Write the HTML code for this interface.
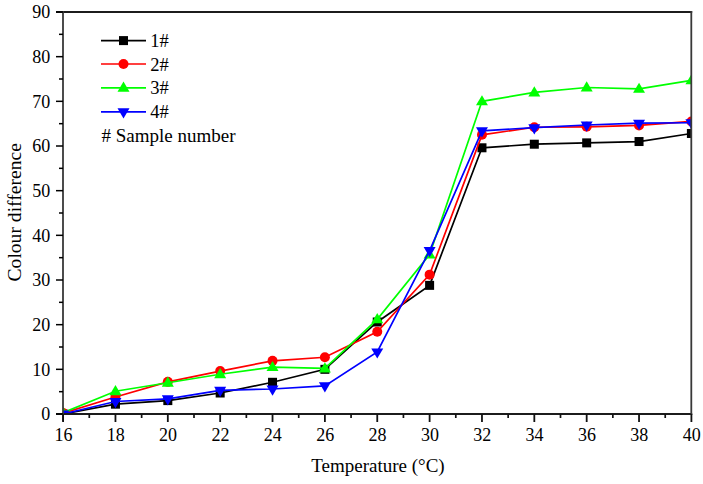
<!DOCTYPE html>
<html><head><meta charset="utf-8"><title>Colour difference vs Temperature</title>
<style>html,body{margin:0;padding:0;background:#fff;width:703px;height:484px;overflow:hidden}svg{display:block}text{font-family:"Liberation Serif",serif}</style>
</head><body>
<svg width="703" height="484" viewBox="0 0 703 484">
<defs><clipPath id="c"><rect x="63.1" y="12" width="628.3" height="402"/></clipPath></defs>
<rect width="703" height="484" fill="#fff"/>
<g clip-path="url(#c)">
<polyline points="63.10,414.00 115.46,404.17 167.82,400.60 220.17,393.01 272.53,382.29 324.89,369.33 377.25,321.99 429.61,285.36 481.97,147.79 534.32,144.21 586.68,142.87 639.04,141.53 691.40,133.49" fill="none" stroke="#000000" stroke-width="1.7" stroke-linejoin="miter"/>
<rect x="58.60" y="409.50" width="9.00" height="9.00" fill="#000000"/>
<rect x="110.96" y="399.67" width="9.00" height="9.00" fill="#000000"/>
<rect x="163.32" y="396.10" width="9.00" height="9.00" fill="#000000"/>
<rect x="215.67" y="388.51" width="9.00" height="9.00" fill="#000000"/>
<rect x="268.03" y="377.79" width="9.00" height="9.00" fill="#000000"/>
<rect x="320.39" y="364.83" width="9.00" height="9.00" fill="#000000"/>
<rect x="372.75" y="317.49" width="9.00" height="9.00" fill="#000000"/>
<rect x="425.11" y="280.86" width="9.00" height="9.00" fill="#000000"/>
<rect x="477.47" y="143.29" width="9.00" height="9.00" fill="#000000"/>
<rect x="529.82" y="139.71" width="9.00" height="9.00" fill="#000000"/>
<rect x="582.18" y="138.37" width="9.00" height="9.00" fill="#000000"/>
<rect x="634.54" y="137.03" width="9.00" height="9.00" fill="#000000"/>
<rect x="686.90" y="128.99" width="9.00" height="9.00" fill="#000000"/>
<polyline points="63.10,413.11 115.46,397.03 167.82,381.84 220.17,371.12 272.53,360.85 324.89,357.27 377.25,331.81 429.61,274.64 481.97,134.83 534.32,127.24 586.68,126.79 639.04,125.45 691.40,121.43" fill="none" stroke="#ff0000" stroke-width="1.7" stroke-linejoin="miter"/>
<circle cx="63.10" cy="413.11" r="5" fill="#ff0000"/>
<circle cx="115.46" cy="397.03" r="5" fill="#ff0000"/>
<circle cx="167.82" cy="381.84" r="5" fill="#ff0000"/>
<circle cx="220.17" cy="371.12" r="5" fill="#ff0000"/>
<circle cx="272.53" cy="360.85" r="5" fill="#ff0000"/>
<circle cx="324.89" cy="357.27" r="5" fill="#ff0000"/>
<circle cx="377.25" cy="331.81" r="5" fill="#ff0000"/>
<circle cx="429.61" cy="274.64" r="5" fill="#ff0000"/>
<circle cx="481.97" cy="134.83" r="5" fill="#ff0000"/>
<circle cx="534.32" cy="127.24" r="5" fill="#ff0000"/>
<circle cx="586.68" cy="126.79" r="5" fill="#ff0000"/>
<circle cx="639.04" cy="125.45" r="5" fill="#ff0000"/>
<circle cx="691.40" cy="121.43" r="5" fill="#ff0000"/>
<polyline points="63.10,412.66 115.46,391.22 167.82,382.73 220.17,374.25 272.53,367.10 324.89,368.44 377.25,319.31 429.61,254.54 481.97,101.33 534.32,92.40 586.68,87.49 639.04,88.83 691.40,80.34" fill="none" stroke="#00ff00" stroke-width="1.7" stroke-linejoin="miter"/>
<polygon points="63.10,406.46 69.10,416.66 57.10,416.66" fill="#00ff00"/>
<polygon points="115.46,385.02 121.46,395.22 109.46,395.22" fill="#00ff00"/>
<polygon points="167.82,376.53 173.82,386.73 161.82,386.73" fill="#00ff00"/>
<polygon points="220.17,368.05 226.17,378.25 214.17,378.25" fill="#00ff00"/>
<polygon points="272.53,360.90 278.53,371.10 266.53,371.10" fill="#00ff00"/>
<polygon points="324.89,362.24 330.89,372.44 318.89,372.44" fill="#00ff00"/>
<polygon points="377.25,313.11 383.25,323.31 371.25,323.31" fill="#00ff00"/>
<polygon points="429.61,248.34 435.61,258.54 423.61,258.54" fill="#00ff00"/>
<polygon points="481.97,95.13 487.97,105.33 475.97,105.33" fill="#00ff00"/>
<polygon points="534.32,86.20 540.32,96.40 528.32,96.40" fill="#00ff00"/>
<polygon points="586.68,81.29 592.68,91.49 580.68,91.49" fill="#00ff00"/>
<polygon points="639.04,82.63 645.04,92.83 633.04,92.83" fill="#00ff00"/>
<polygon points="691.40,74.14 697.40,84.34 685.40,84.34" fill="#00ff00"/>
<polyline points="63.10,414.00 115.46,401.49 167.82,398.81 220.17,390.33 272.53,388.99 324.89,385.86 377.25,351.91 429.61,250.52 481.97,130.81 534.32,127.69 586.68,125.01 639.04,123.22 691.40,122.77" fill="none" stroke="#0000ff" stroke-width="1.7" stroke-linejoin="miter"/>
<polygon points="57.10,410.50 69.10,410.50 63.10,420.70" fill="#0000ff"/>
<polygon points="109.46,397.99 121.46,397.99 115.46,408.19" fill="#0000ff"/>
<polygon points="161.82,395.31 173.82,395.31 167.82,405.51" fill="#0000ff"/>
<polygon points="214.17,386.83 226.17,386.83 220.17,397.03" fill="#0000ff"/>
<polygon points="266.53,385.49 278.53,385.49 272.53,395.69" fill="#0000ff"/>
<polygon points="318.89,382.36 330.89,382.36 324.89,392.56" fill="#0000ff"/>
<polygon points="371.25,348.41 383.25,348.41 377.25,358.61" fill="#0000ff"/>
<polygon points="423.61,247.02 435.61,247.02 429.61,257.22" fill="#0000ff"/>
<polygon points="475.97,127.31 487.97,127.31 481.97,137.51" fill="#0000ff"/>
<polygon points="528.32,124.19 540.32,124.19 534.32,134.39" fill="#0000ff"/>
<polygon points="580.68,121.51 592.68,121.51 586.68,131.71" fill="#0000ff"/>
<polygon points="633.04,119.72 645.04,119.72 639.04,129.92" fill="#0000ff"/>
<polygon points="685.40,119.27 697.40,119.27 691.40,129.47" fill="#0000ff"/>
</g>
<g>
<line x1="56" y1="12" x2="692.2" y2="12" stroke="#1c1c1c" stroke-width="1.8"/>
<line x1="56" y1="414" x2="692.2" y2="414" stroke="#1c1c1c" stroke-width="1.8"/>
<line x1="63" y1="11.1" x2="63" y2="421.5" stroke="#383838" stroke-width="1.8"/>
<line x1="691.3" y1="11.1" x2="691.3" y2="414.9" stroke="#383838" stroke-width="1.8"/>
<line x1="56" y1="414.00" x2="63" y2="414.00" stroke="#000" stroke-width="1.5"/>
<line x1="59" y1="391.67" x2="63" y2="391.67" stroke="#000" stroke-width="1.5"/>
<line x1="56" y1="369.33" x2="63" y2="369.33" stroke="#000" stroke-width="1.5"/>
<line x1="59" y1="347.00" x2="63" y2="347.00" stroke="#000" stroke-width="1.5"/>
<line x1="56" y1="324.67" x2="63" y2="324.67" stroke="#000" stroke-width="1.5"/>
<line x1="59" y1="302.33" x2="63" y2="302.33" stroke="#000" stroke-width="1.5"/>
<line x1="56" y1="280.00" x2="63" y2="280.00" stroke="#000" stroke-width="1.5"/>
<line x1="59" y1="257.67" x2="63" y2="257.67" stroke="#000" stroke-width="1.5"/>
<line x1="56" y1="235.33" x2="63" y2="235.33" stroke="#000" stroke-width="1.5"/>
<line x1="59" y1="213.00" x2="63" y2="213.00" stroke="#000" stroke-width="1.5"/>
<line x1="56" y1="190.67" x2="63" y2="190.67" stroke="#000" stroke-width="1.5"/>
<line x1="59" y1="168.33" x2="63" y2="168.33" stroke="#000" stroke-width="1.5"/>
<line x1="56" y1="146.00" x2="63" y2="146.00" stroke="#000" stroke-width="1.5"/>
<line x1="59" y1="123.67" x2="63" y2="123.67" stroke="#000" stroke-width="1.5"/>
<line x1="56" y1="101.33" x2="63" y2="101.33" stroke="#000" stroke-width="1.5"/>
<line x1="59" y1="79.00" x2="63" y2="79.00" stroke="#000" stroke-width="1.5"/>
<line x1="56" y1="56.67" x2="63" y2="56.67" stroke="#000" stroke-width="1.5"/>
<line x1="59" y1="34.33" x2="63" y2="34.33" stroke="#000" stroke-width="1.5"/>
<line x1="56" y1="12.00" x2="63" y2="12.00" stroke="#000" stroke-width="1.5"/>
<line x1="63.10" y1="414" x2="63.10" y2="422" stroke="#111" stroke-width="1.8"/>
<line x1="89.28" y1="414" x2="89.28" y2="418" stroke="#111" stroke-width="1.7"/>
<line x1="115.46" y1="414" x2="115.46" y2="422" stroke="#111" stroke-width="1.8"/>
<line x1="141.64" y1="414" x2="141.64" y2="418" stroke="#111" stroke-width="1.7"/>
<line x1="167.82" y1="414" x2="167.82" y2="422" stroke="#111" stroke-width="1.8"/>
<line x1="194.00" y1="414" x2="194.00" y2="418" stroke="#111" stroke-width="1.7"/>
<line x1="220.17" y1="414" x2="220.17" y2="422" stroke="#111" stroke-width="1.8"/>
<line x1="246.35" y1="414" x2="246.35" y2="418" stroke="#111" stroke-width="1.7"/>
<line x1="272.53" y1="414" x2="272.53" y2="422" stroke="#111" stroke-width="1.8"/>
<line x1="298.71" y1="414" x2="298.71" y2="418" stroke="#111" stroke-width="1.7"/>
<line x1="324.89" y1="414" x2="324.89" y2="422" stroke="#111" stroke-width="1.8"/>
<line x1="351.07" y1="414" x2="351.07" y2="418" stroke="#111" stroke-width="1.7"/>
<line x1="377.25" y1="414" x2="377.25" y2="422" stroke="#111" stroke-width="1.8"/>
<line x1="403.43" y1="414" x2="403.43" y2="418" stroke="#111" stroke-width="1.7"/>
<line x1="429.61" y1="414" x2="429.61" y2="422" stroke="#111" stroke-width="1.8"/>
<line x1="455.79" y1="414" x2="455.79" y2="418" stroke="#111" stroke-width="1.7"/>
<line x1="481.97" y1="414" x2="481.97" y2="422" stroke="#111" stroke-width="1.8"/>
<line x1="508.15" y1="414" x2="508.15" y2="418" stroke="#111" stroke-width="1.7"/>
<line x1="534.32" y1="414" x2="534.32" y2="422" stroke="#111" stroke-width="1.8"/>
<line x1="560.50" y1="414" x2="560.50" y2="418" stroke="#111" stroke-width="1.7"/>
<line x1="586.68" y1="414" x2="586.68" y2="422" stroke="#111" stroke-width="1.8"/>
<line x1="612.86" y1="414" x2="612.86" y2="418" stroke="#111" stroke-width="1.7"/>
<line x1="639.04" y1="414" x2="639.04" y2="422" stroke="#111" stroke-width="1.8"/>
<line x1="665.22" y1="414" x2="665.22" y2="418" stroke="#111" stroke-width="1.7"/>
<line x1="691.40" y1="414" x2="691.40" y2="422" stroke="#111" stroke-width="1.8"/>
</g>
<g font-family="Liberation Serif, serif" font-size="19" fill="#000">
<text x="50.3" y="420.20" text-anchor="end" font-size="18">0</text>
<text x="50.3" y="375.53" text-anchor="end" font-size="18">10</text>
<text x="50.3" y="330.87" text-anchor="end" font-size="18">20</text>
<text x="50.3" y="286.20" text-anchor="end" font-size="18">30</text>
<text x="50.3" y="241.53" text-anchor="end" font-size="18">40</text>
<text x="50.3" y="196.87" text-anchor="end" font-size="18">50</text>
<text x="50.3" y="152.20" text-anchor="end" font-size="18">60</text>
<text x="50.3" y="107.53" text-anchor="end" font-size="18">70</text>
<text x="50.3" y="62.87" text-anchor="end" font-size="18">80</text>
<text x="50.3" y="18.20" text-anchor="end" font-size="18">90</text>
<text x="63.40" y="440.7" text-anchor="middle" font-size="18">16</text>
<text x="115.76" y="440.7" text-anchor="middle" font-size="18">18</text>
<text x="168.12" y="440.7" text-anchor="middle" font-size="18">20</text>
<text x="220.47" y="440.7" text-anchor="middle" font-size="18">22</text>
<text x="272.83" y="440.7" text-anchor="middle" font-size="18">24</text>
<text x="325.19" y="440.7" text-anchor="middle" font-size="18">26</text>
<text x="377.55" y="440.7" text-anchor="middle" font-size="18">28</text>
<text x="429.91" y="440.7" text-anchor="middle" font-size="18">30</text>
<text x="482.27" y="440.7" text-anchor="middle" font-size="18">32</text>
<text x="534.62" y="440.7" text-anchor="middle" font-size="18">34</text>
<text x="586.98" y="440.7" text-anchor="middle" font-size="18">36</text>
<text x="639.34" y="440.7" text-anchor="middle" font-size="18">38</text>
<text x="691.70" y="440.7" text-anchor="middle" font-size="18">40</text>
<text x="378" y="472" text-anchor="middle">Temperature (°C)</text>
<text transform="translate(20.6,212.3) rotate(-90)" text-anchor="middle" font-size="19.6">Colour difference</text>
<line x1="101" y1="40.6" x2="146" y2="40.6" stroke="#000000" stroke-width="1.7"/>
<rect x="119.00" y="36.10" width="9.00" height="9.00" fill="#000000"/>
<text x="150.3" y="47.1" font-size="18.5">1#</text>
<line x1="101" y1="64.0" x2="146" y2="64.0" stroke="#ff0000" stroke-width="1.7"/>
<circle cx="123.50" cy="64.00" r="5" fill="#ff0000"/>
<text x="150.3" y="70.5" font-size="18.5">2#</text>
<line x1="101" y1="87.8" x2="146" y2="87.8" stroke="#00ff00" stroke-width="1.7"/>
<polygon points="123.50,81.60 129.50,91.80 117.50,91.80" fill="#00ff00"/>
<text x="150.3" y="94.3" font-size="18.5">3#</text>
<line x1="101" y1="111.8" x2="146" y2="111.8" stroke="#0000ff" stroke-width="1.7"/>
<polygon points="117.50,108.30 129.50,108.30 123.50,118.50" fill="#0000ff"/>
<text x="150.3" y="118.3" font-size="18.5">4#</text>
<text x="101.5" y="141.8"># Sample number</text>
</g>
</svg>
</body></html>
